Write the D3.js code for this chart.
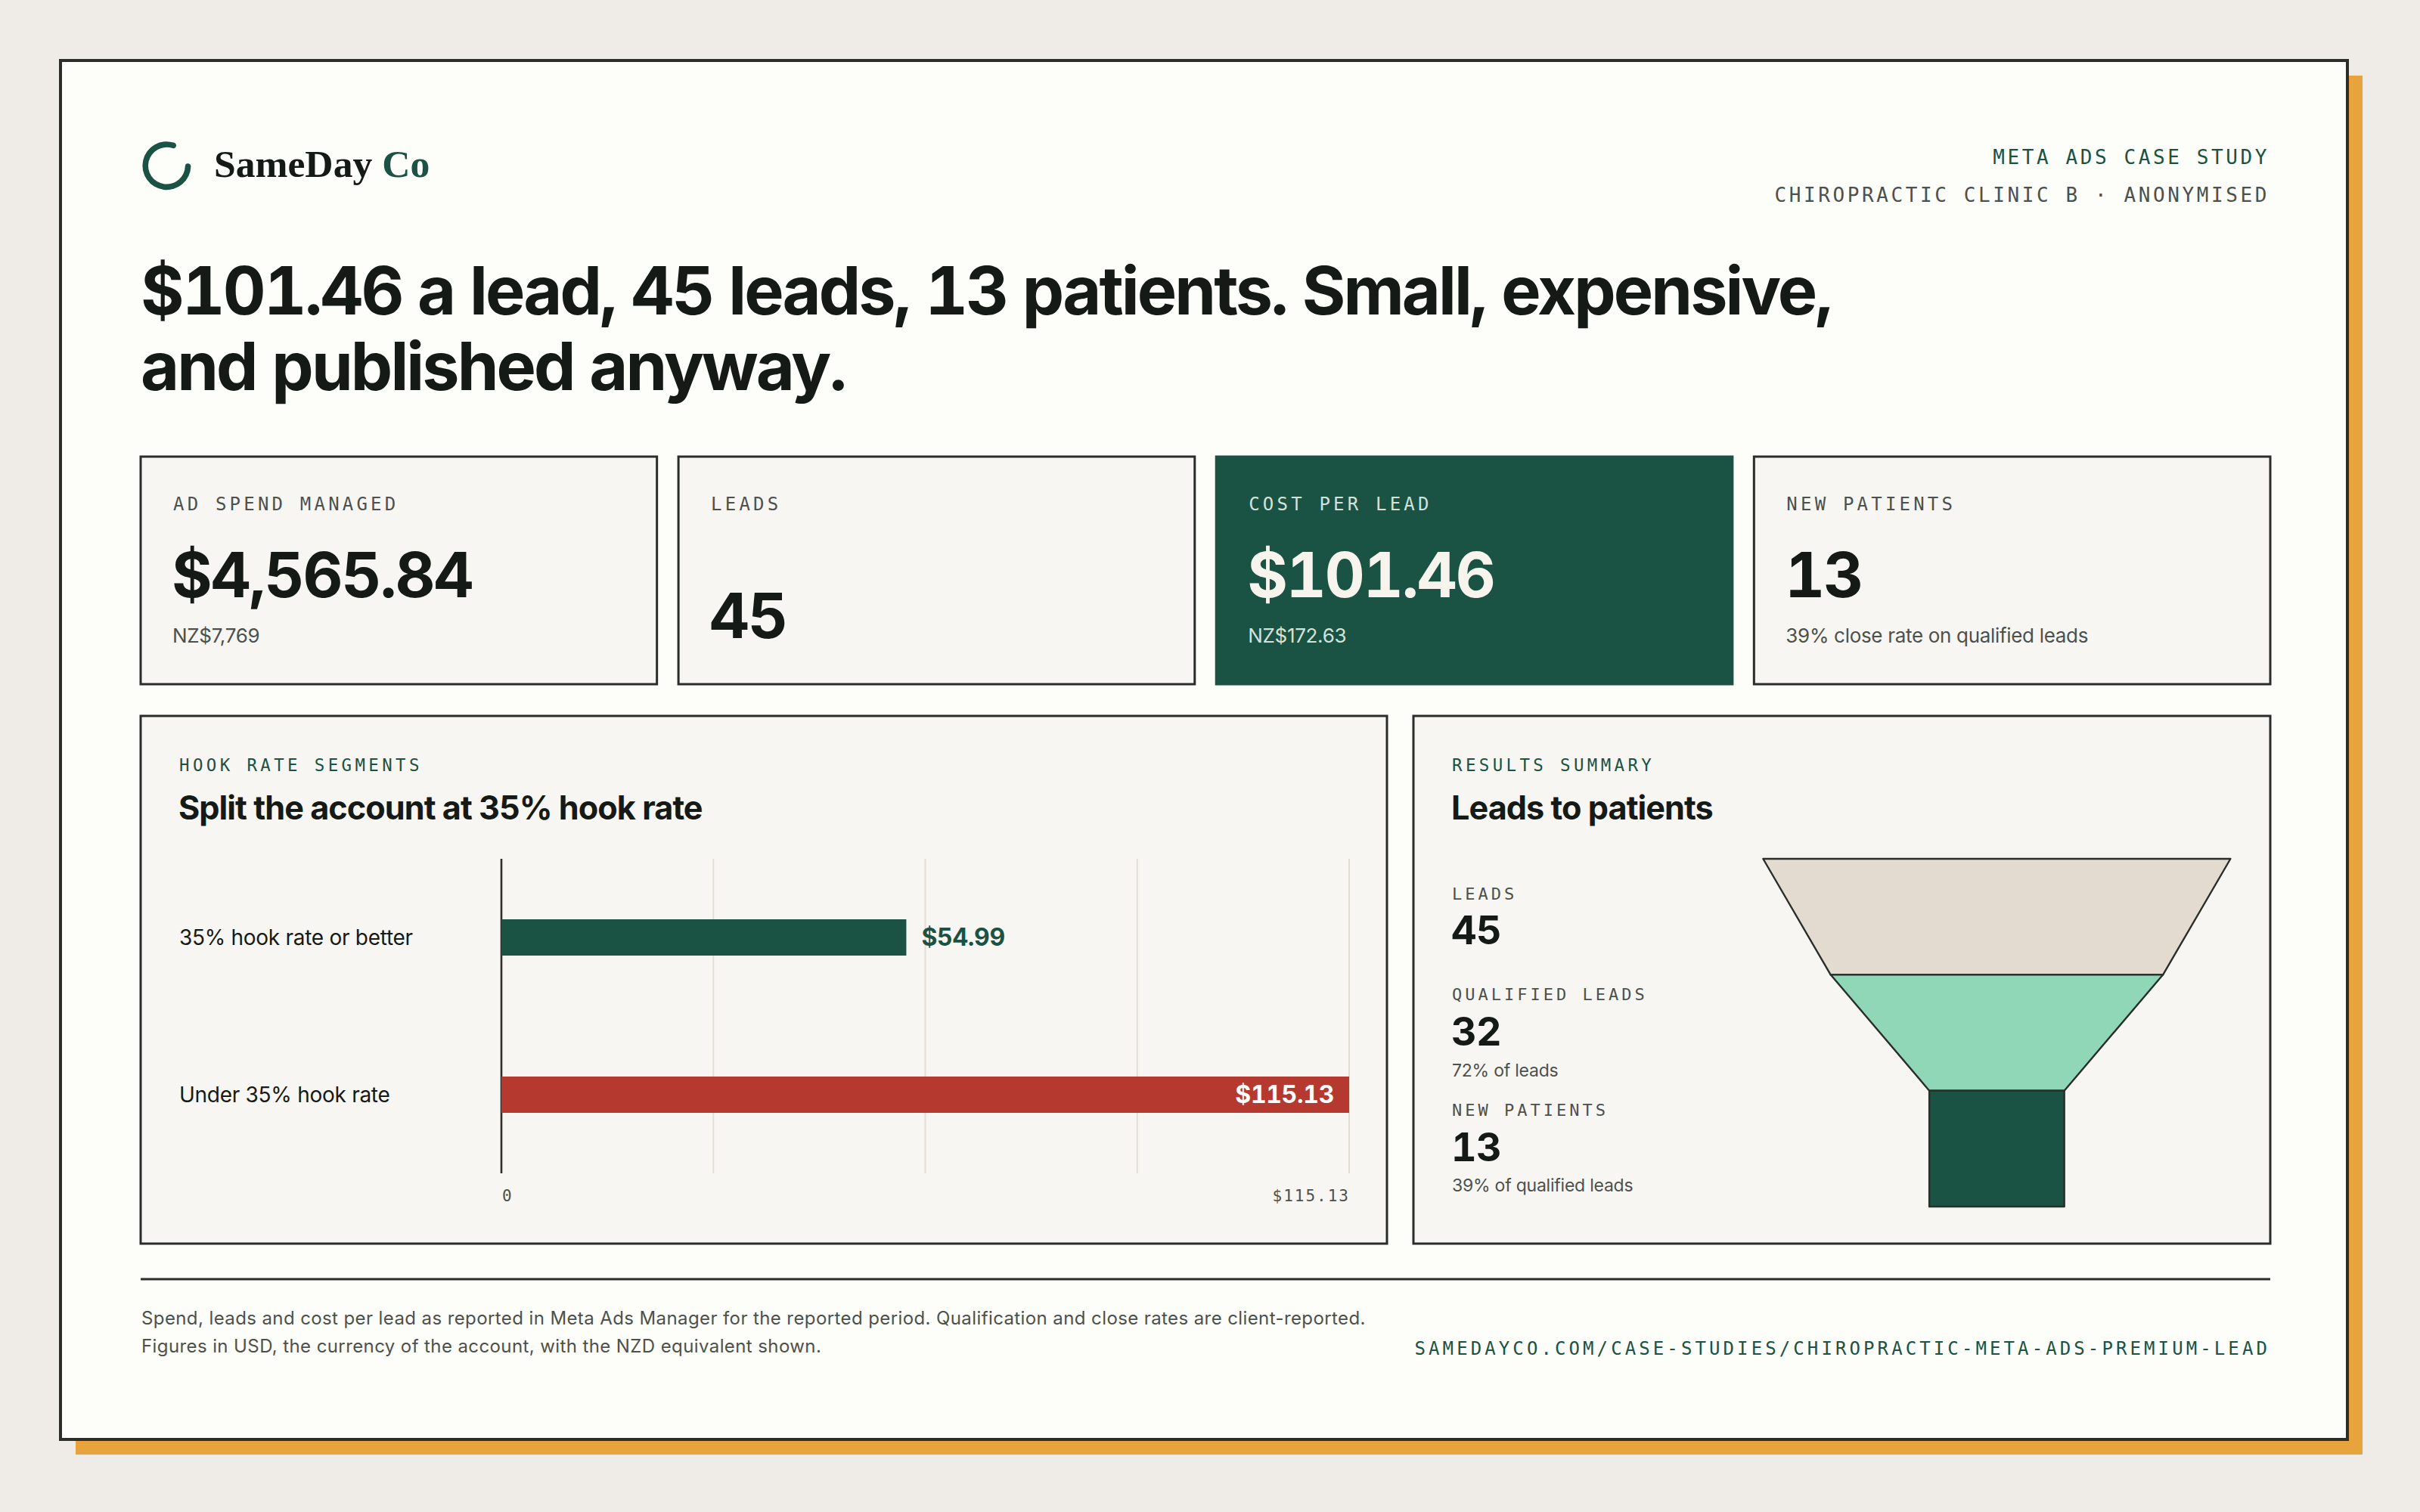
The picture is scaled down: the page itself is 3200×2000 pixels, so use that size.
<!DOCTYPE html>
<html>
<head>
<meta charset="utf-8">
<script src="https://cdn.jsdelivr.net/npm/d3@7"></script>
<style>
  html, body { margin: 0; padding: 0; background: #efebe6; }
  svg { display: block; }
  .tnum { font-variant-numeric: tabular-nums; }
</style>
</head>
<body>
<script>
// values
var headline = ["$101.46 a lead, 45 leads, 13 patients. Small, expensive,", "and published anyway."];
var kpiLabels = ["AD SPEND MANAGED", "LEADS", "COST PER LEAD", "NEW PATIENTS"];
var kpiValues = ["$4,565.84", "45", "$101.46", "13"];
var kpiSubs = ["NZ$7,769", "", "NZ$172.63", "39% close rate on qualified leads"];
var kpiHighlight = "COST PER LEAD";

var segments = ["35% hook rate or better", "Under 35% hook rate"];
var segmentCpl = [54.99, 115.13];
var axisTicks = [0, 115.13];
var gridSteps = 4;

var funnelStages = ["LEADS", "QUALIFIED LEADS", "NEW PATIENTS"];
var funnelValues = [45, 32, 13];
var funnelNotes = ["", "72% of leads", "39% of qualified leads"];

var footnote = ["Spend, leads and cost per lead as reported in Meta Ads Manager for the reported period. Qualification and close rates are client-reported.",
                "Figures in USD, the currency of the account, with the NZD equivalent shown."];
var footUrl = "SAMEDAYCO.COM/CASE-STUDIES/CHIROPRACTIC-META-ADS-PREMIUM-LEAD";

var ink = "#161a17", grey = "#4c514d", green = "#1a5244", red = "#b5392f",
    paper = "#fdfdfa", panel = "#f8f6f2", rule = "#2a2d2a", gold = "#e8a33d",
    gridc = "#e4ded4", beige = "#e3dbcf", mint = "#8fd7b7";
var sans = "Inter, 'Noto Sans', sans-serif",
    mono = "'DejaVu Sans Mono', 'Liberation Mono', monospace",
    serif = "'Liberation Serif', serif";

var svg = d3.select("body").append("svg")
    .attr("width", 3200).attr("height", 2000)
    .attr("viewBox", "0 0 1600 1000");

function label(g, x, y, s, size, fam, col, extra) {
    var t = g.append("text").attr("x", x).attr("y", y).text(s)
        .attr("font-family", fam).attr("font-size", size).attr("fill", col);
    if (extra) Object.keys(extra).forEach(function(k) { t.attr(k, extra[k]); });
    return t;
}

// page frame + offset shadow
svg.append("rect").attr("x", 0).attr("y", 0).attr("width", 1600).attr("height", 1000).attr("fill", "#efebe6");
svg.append("rect").attr("x", 50).attr("y", 50).attr("width", 1512).attr("height", 912).attr("fill", gold);
svg.append("rect").attr("x", 40).attr("y", 40).attr("width", 1512).attr("height", 912)
    .attr("fill", paper).attr("stroke", rule).attr("stroke-width", 2);

// logo
var ring = d3.arc().innerRadius(12.2).outerRadius(16).cornerRadius(1.9)
    .startAngle(84 * Math.PI / 180).endAngle(386 * Math.PI / 180);
svg.append("path").attr("d", ring()).attr("transform", "translate(110.2,109.6)").attr("fill", green);
var logo = label(svg, 141.5, 117.2, "", 25.8, serif, ink, {"font-weight": 700});
logo.append("tspan").text("SameDay ");
logo.append("tspan").attr("fill", green).text("Co");

label(svg, 1500.5, 108.3, "META ADS CASE STUDY", 13, mono, green, {"text-anchor": "end", "letter-spacing": 1.8});
label(svg, 1500.5, 133.7, "CHIROPRACTIC CLINIC B · ANONYMISED", 13, mono, grey, {"text-anchor": "end", "letter-spacing": 1.8});

headline.forEach(function(s, i) {
    label(svg, 93, 208 + i * 50, s, 44, sans, ink, {"font-weight": 700, "letter-spacing": "-0.033em", "class": "tnum"});
});

// KPI cards
var kx = d3.scaleBand().domain(kpiLabels).range([93, 1501]).paddingInner(0.04);
var cards = svg.selectAll("g.kpi").data(kpiLabels).enter().append("g")
    .attr("class", "kpi").attr("transform", function(d) { return "translate(" + kx(d) + ",302)"; });
cards.append("rect").attr("width", kx.bandwidth()).attr("height", 150.5)
    .attr("fill", function(d) { return d === kpiHighlight ? green : panel; })
    .attr("stroke", function(d) { return d === kpiHighlight ? green : rule; })
    .attr("stroke-width", 1.5);
cards.each(function(d, i) {
    var g = d3.select(this), hi = d === kpiHighlight;
    label(g, 21.5, 35.5, d, 12, mono, hi ? "#d3e2da" : grey, {"letter-spacing": 2.1});
    label(g, 20.5, kpiSubs[i] ? 93 : 120, kpiValues[i], 41, sans, hi ? "#f7f4ee" : ink,
        {"font-weight": 700, "letter-spacing": "-0.025em", "class": "tnum"});
    if (kpiSubs[i]) label(g, 21, 123, kpiSubs[i], 13, sans, hi ? "#d3e2da" : grey, {"letter-spacing": "-0.012em"});
});

// panels
function panelBox(x, w, eyebrow, title) {
    var g = svg.append("g").attr("transform", "translate(" + x + ",473.5)");
    g.append("rect").attr("width", w).attr("height", 349).attr("fill", panel)
        .attr("stroke", rule).attr("stroke-width", 1.5);
    label(g, 25.5, 36.5, eyebrow, 11.2, mono, green, {"letter-spacing": 2.2});
    label(g, 25, 68.3, title, 21.6, sans, ink, {"font-weight": 700, "letter-spacing": "-0.022em"});
    return g;
}
panelBox(93, 824, "HOOK RATE SEGMENTS", "Split the account at 35% hook rate");
panelBox(934.5, 566.5, "RESULTS SUMMARY", "Leads to patients");

// bar chart
var x = d3.scaleLinear().domain([0, d3.max(segmentCpl)]).range([331.5, 892]);
var y = d3.scalePoint().domain(segments).range([568, 776]).padding(0.5);
var chart = svg.append("g");
var gridVals = d3.range(1, gridSteps + 1).map(function(i) { return x.domain()[1] * i / gridSteps; });
chart.selectAll("line.grid").data(gridVals).enter().append("line")
    .attr("x1", function(d) { return x(d); }).attr("x2", function(d) { return x(d); })
    .attr("y1", 568).attr("y2", 776).attr("stroke", gridc).attr("stroke-width", 1);
chart.append("line").attr("x1", x(0)).attr("x2", x(0)).attr("y1", 568).attr("y2", 776)
    .attr("stroke", rule).attr("stroke-width", 1.3);
chart.selectAll("rect.bar").data(segments).enter().append("rect")
    .attr("x", x(0)).attr("y", function(d) { return y(d) - 12; })
    .attr("width", function(d, i) { return x(segmentCpl[i]) - x(0); }).attr("height", 24)
    .attr("fill", function(d, i) { return i === 0 ? green : red; });
segments.forEach(function(d, i) {
    label(chart, 118.5, y(d) + 5, d, 14, sans, ink, {"letter-spacing": "-0.01em"});
    var inside = segmentCpl[i] === d3.max(segmentCpl);
    label(chart, inside ? x(segmentCpl[i]) - 10 : x(segmentCpl[i]) + 10, y(d) + 5.5,
        "$" + segmentCpl[i].toFixed(2), 16, sans, inside ? "#ffffff" : green,
        {"font-weight": 700, "letter-spacing": "-0.01em", "class": "tnum",
         "text-anchor": inside ? "end" : "start"});
});
var axis = d3.axisBottom(x).tickValues(axisTicks).tickSize(0).tickPadding(0)
    .tickFormat(function(d) { return d === 0 ? "0" : "$" + d.toFixed(2); });
var ax = chart.append("g").attr("transform", "translate(0,786)").call(axis);
ax.select(".domain").remove();
ax.selectAll("text").attr("font-family", mono).attr("font-size", 10.5).attr("fill", grey)
    .attr("letter-spacing", 1).attr("dy", 0).attr("y", 8.4)
    .attr("text-anchor", function(d) { return d === 0 ? "start" : "end"; })
    .attr("x", 0);

// funnel
var fw = d3.scaleLinear().domain([0, d3.max(funnelValues)]).range([0, 309]);
var fy = d3.scaleBand().domain(funnelStages).range([568, 798]);
var fcx = 1320.2;
var fills = [beige, mint, green];
var line = d3.line();
funnelStages.forEach(function(s, i) {
    var top = fw(funnelValues[i]);
    var bot = i < funnelStages.length - 1 ? fw(funnelValues[i + 1]) : top;
    var y0 = fy(s), y1 = y0 + fy.bandwidth();
    svg.append("path")
        .attr("d", line([[fcx - top / 2, y0], [fcx + top / 2, y0], [fcx + bot / 2, y1], [fcx - bot / 2, y1]]) + "Z")
        .attr("fill", fills[i]).attr("stroke", rule).attr("stroke-width", 1.2).attr("stroke-linejoin", "round");
});

var ly = 595;
funnelStages.forEach(function(s, i) {
    label(svg, 960, ly, s, 11, mono, grey, {"letter-spacing": 2});
    var vy = ly + 29.7;
    label(svg, 959.5, vy, funnelValues[i], 26, sans, ink, {"font-weight": 700, "letter-spacing": "-0.01em", "class": "tnum"});
    if (funnelNotes[i]) {
        label(svg, 960, vy + 20.4, funnelNotes[i], 11.5, sans, grey, {"letter-spacing": "-0.01em"});
        ly = vy + 20.4 + 26.3;
    } else {
        ly = vy + 37;
    }
});

// footer
svg.append("line").attr("x1", 93).attr("x2", 1501).attr("y1", 846).attr("y2", 846)
    .attr("stroke", rule).attr("stroke-width", 1.5);
footnote.forEach(function(s, i) {
    label(svg, 93.5, 875.8 + i * 18.9, s, 12, sans, grey, {"letter-spacing": 0.2});
});
label(svg, 1501, 895.8, footUrl, 12, mono, green, {"text-anchor": "end", "letter-spacing": 2.05});
</script>
</body>
</html>
